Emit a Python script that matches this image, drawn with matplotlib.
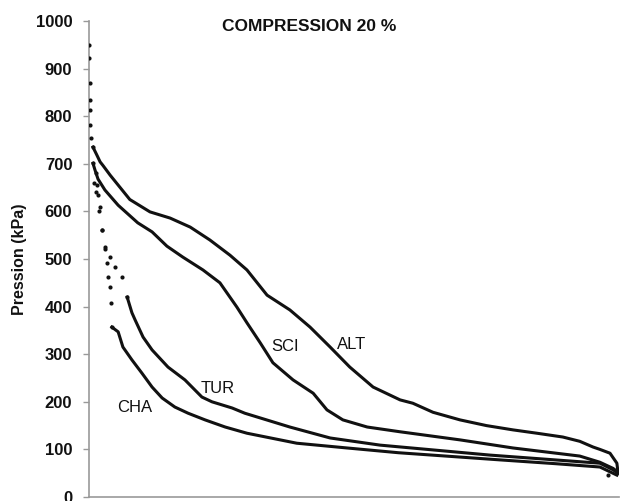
import matplotlib
matplotlib.use('Agg')
import matplotlib.pyplot as plt

plt.rcParams['font.family'] = ['Liberation Sans', 'DejaVu Sans']

# x: share of the contact area (%), y: pressure (kPa).
# The first HEAD_* points of each curve are sparse dots, the rest a dense trace.
ALT_X = [0.0, 0.05, 0.15, 0.1, 0.2, 0.25, 0.4, 0.75, 1.5, 2.1, 2.6, 4.0, 7.7, 11.5, 15.3,
         19.1, 22.8, 26.6, 29.8, 33.6, 37.9, 41.7, 45.5, 49.2, 53.6, 58.7, 61.1, 64.9,
         70.0, 75.0, 80.0, 84.5, 89.4, 92.6, 95.1, 96.4, 98.3, 99.6, 99.8]
ALT_Y = [950, 922, 870, 834, 813, 782, 754, 735, 718, 704, 697, 676, 625, 599, 586,
         567, 540, 508, 477, 424, 393, 357, 315, 273, 231, 204, 197, 178,
         162, 150, 141, 134, 126, 117, 105, 100, 92, 71, 53]

SCI_X = [0.75, 1.13, 1.7, 3.0, 5.5, 9.2, 11.9, 14.7, 17.7, 21.5, 24.7, 27.9, 29.8, 32.3,
         34.7, 38.5, 42.3, 44.9, 47.9, 52.5, 58.7, 70.0, 80.0, 92.6, 96.4, 98.9, 99.8]
SCI_Y = [701, 687, 668, 645, 613, 576, 557, 527, 504, 477, 450, 399, 366, 324,
         282, 246, 218, 183, 162, 147, 137, 120, 103, 86, 73, 60, 52]

TUR_X = [1.3, 1.5, 1.7, 2.1, 2.5, 3.0, 4.0, 4.9, 6.2, 7.2, 8.1, 8.7, 10.2, 11.9, 14.9,
         18.1, 21.3, 23.2, 27.0, 29.4, 37.9, 45.5, 54.9, 75.7, 96.4, 98.9, 99.8]
TUR_Y = [680, 655, 634, 609, 561, 525, 504, 483, 462, 420, 387, 372, 336, 309, 273,
         246, 210, 200, 187, 176, 147, 124, 109, 88, 71, 57, 50]

CHA_X = [0.9, 1.3, 1.9, 2.5, 3.0, 3.4, 3.6, 4.0, 4.1, 4.3, 5.5, 6.4, 8.1, 10.0, 11.9,
         13.8, 16.2, 18.7, 21.9, 25.7, 29.8, 39.2, 48.7, 58.4, 77.5, 88.0, 96.4, 99.6]
CHA_Y = [660, 640, 600, 560, 520, 491, 462, 441, 407, 357, 347, 315, 288, 260, 231,
         208, 189, 176, 162, 147, 134, 113, 103, 93, 78, 70, 63, 46]

HEAD = {'ALT': 8, 'SCI': 1, 'TUR': 10, 'CHA': 10}

STRAY_X = [97.9]
STRAY_Y = [46]

LABELS = ['CHA', 'TUR', 'SCI', 'ALT']
LABEL_X = [8.7, 24.3, 37.0, 49.6]
LABEL_Y = [189, 227, 317, 321]

series = {'ALT': (ALT_X, ALT_Y), 'SCI': (SCI_X, SCI_Y),
          'TUR': (TUR_X, TUR_Y), 'CHA': (CHA_X, CHA_Y)}

fig = plt.figure(figsize=(6.21, 5.01), dpi=100)
ax = fig.add_axes([89 / 621, 4 / 501, 530 / 621, 476 / 501])

ink = '#111111'
for name, (xs, ys) in series.items():
    h = HEAD[name]
    ax.scatter(xs[:h], ys[:h], s=9, color=ink, linewidths=0, zorder=3)
    ax.plot(xs[h - 1:], ys[h - 1:], color=ink, linewidth=2.2, solid_joinstyle='round')
ax.scatter(STRAY_X, STRAY_Y, s=9, color=ink, linewidths=0)

for text, lx, ly in zip(LABELS, LABEL_X, LABEL_Y):
    ax.text(lx, ly, text, ha='center', va='center', fontsize=12, color=ink)

ax.text(41.5, 988, 'COMPRESSION 20 %', ha='center', va='center',
        fontsize=12.5, fontweight='bold', color=ink)

ax.set_xlim(0, 100)
ax.set_ylim(0, 1000)
ax.set_yticks(range(0, 1001, 100))
ax.set_xticks([])
for lab in ax.get_yticklabels():
    lab.set_fontweight('bold')
ax.tick_params(axis='y', direction='out', length=4, width=1, color='#999999',
               labelsize=12, pad=8, labelcolor=ink)

ax.set_ylabel('Pression (kPa)', fontsize=11.5, fontweight='bold', color=ink)
ax.yaxis.set_label_coords(-62 / 530, 0.5)

for side in ['top', 'right']:
    ax.spines[side].set_visible(False)
for side in ['left', 'bottom']:
    ax.spines[side].set_color('#999999')
    ax.spines[side].set_linewidth(1.2)

fig.savefig('out.png', dpi=100)
